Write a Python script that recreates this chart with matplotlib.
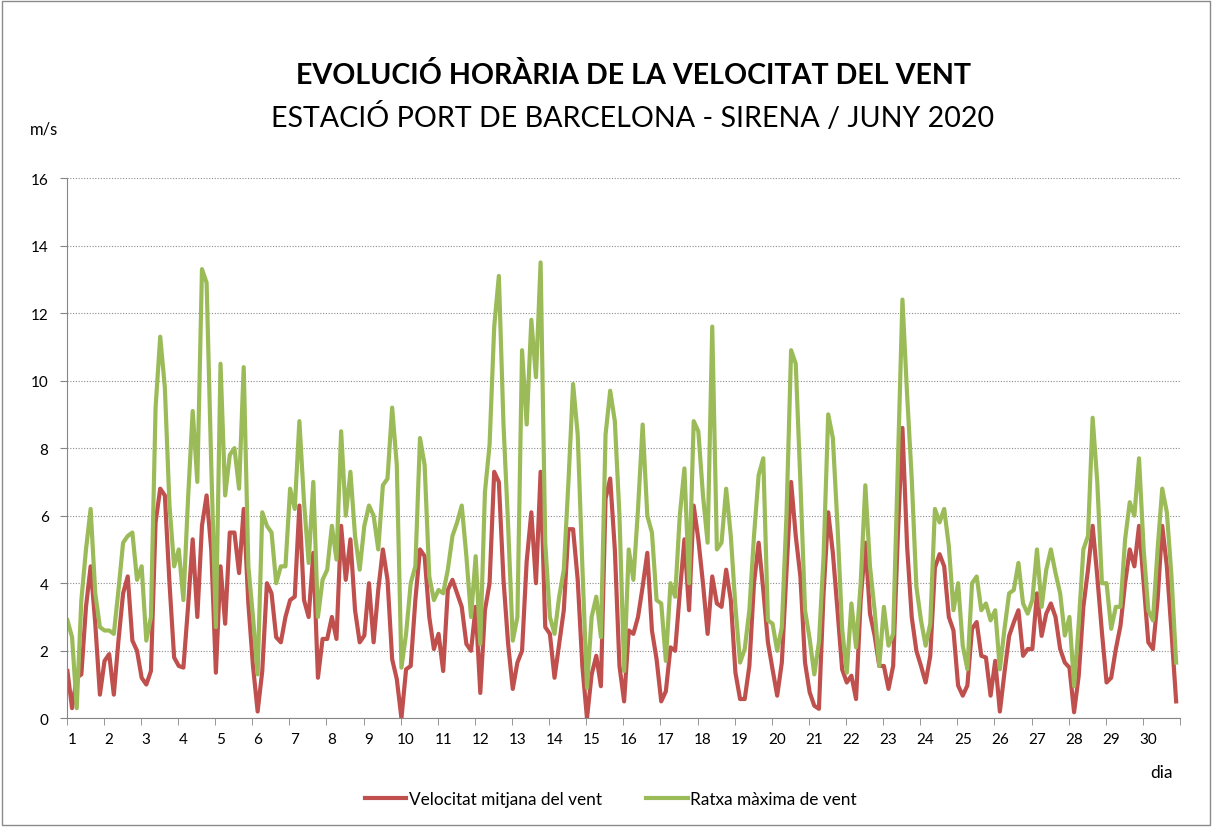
import numpy as np
import matplotlib
matplotlib.use('Agg')
import matplotlib.pyplot as plt
from matplotlib.patches import Rectangle

plt.rcParams['font.family'] = ['Lato', 'DejaVu Sans']

# lectures cada 3 hores (0h, 3h, ... 21h), una fila per dia de juny 2020
dies = [str(d) for d in range(1, 31)]

mitjana = [
    1.4, 0.3, 1.2, 1.3, 3.3, 4.5, 2.8, 0.7,
    1.7, 1.9, 0.7, 2.3, 3.7, 4.2, 2.3, 2.0,
    1.2, 1.0, 1.4, 5.8, 6.8, 6.6, 4.0, 1.8,
    1.55, 1.5, 3.3, 5.3, 3.0, 5.7, 6.6, 5.0,
    1.35, 4.5, 2.8, 5.5, 5.5, 4.3, 6.2, 3.4,
    1.55, 0.2, 1.4, 4.0, 3.7, 2.4, 2.25, 3.0,
    3.5, 3.6, 6.3, 3.5, 3.0, 4.9, 1.2, 2.35,
    2.35, 3.0, 2.35, 5.7, 4.1, 5.3, 3.2, 2.25,
    2.45, 4.0, 2.25, 3.8, 5.0, 4.1, 1.75, 1.16,
    0.0, 1.45, 1.55, 3.5, 5.0, 4.8, 3.0, 2.05,
    2.5, 1.4, 3.8, 4.1, 3.7, 3.3, 2.2, 2.0,
    3.3, 0.75, 3.2, 4.0, 7.3, 7.0, 4.1, 2.2,
    0.87, 1.65, 2.0, 4.65, 6.1, 4.0, 7.3, 2.7,
    2.5, 1.2, 2.2, 3.2, 5.6, 5.6, 4.1, 1.55,
    0.0, 1.3, 1.85, 0.95, 6.5, 7.1, 5.0, 1.55,
    0.5, 2.6, 2.5, 3.0, 3.9, 4.9, 2.6, 1.75,
    0.5, 0.8, 2.1, 2.0, 3.7, 5.3, 3.2, 6.3,
    5.3, 4.0, 2.5, 4.2, 3.4, 3.3, 4.4, 3.5,
    1.35, 0.57, 0.57, 1.55, 4.0, 5.2, 3.8, 2.25,
    1.45, 0.67, 1.65, 4.3, 7.0, 5.4, 4.2, 1.65,
    0.77, 0.37, 0.28, 3.7, 6.1, 4.9, 3.2, 1.45,
    1.06, 1.26, 0.57, 3.5, 5.2, 3.1, 2.45, 1.55,
    1.55, 0.87, 1.55, 5.4, 8.6, 5.1, 3.0, 2.0,
    1.55, 1.06, 1.85, 4.46, 4.86, 4.5, 3.0, 2.6,
    0.97, 0.67, 0.97, 2.65, 2.85, 1.85, 1.8, 0.67,
    1.7, 0.2, 1.36, 2.44, 2.84, 3.2, 1.85, 2.05,
    2.05, 3.7, 2.44, 3.1, 3.4, 3.0, 2.05, 1.65,
    1.5, 0.18, 1.26, 3.3, 4.4, 5.7, 4.2, 2.55,
    1.06, 1.2, 2.05, 2.74, 4.0, 5.0, 4.5, 5.7,
    4.0, 2.25, 2.05, 3.5, 5.7, 4.5, 2.55, 0.5,
]

ratxa = [
    2.9, 2.4, 0.3, 3.5, 5.0, 6.2, 3.7, 2.7,
    2.6, 2.6, 2.5, 3.8, 5.2, 5.4, 5.5, 4.1,
    4.5, 2.3, 3.0, 9.2, 11.3, 9.8, 6.3, 4.5,
    5.0, 3.5, 6.5, 9.1, 7.0, 13.3, 12.9, 7.5,
    2.7, 10.5, 6.6, 7.8, 8.0, 6.8, 10.4, 4.5,
    3.0, 1.3, 6.1, 5.7, 5.5, 4.0, 4.5, 4.5,
    6.8, 6.2, 8.8, 6.4, 4.6, 7.0, 3.0, 4.1,
    4.4, 5.7, 4.7, 8.5, 6.0, 7.3, 5.4, 4.4,
    5.7, 6.3, 6.0, 5.0, 6.9, 7.1, 9.2, 7.5,
    1.5, 2.5, 4.0, 4.5, 8.3, 7.5, 4.2, 3.5,
    3.8, 3.7, 4.4, 5.4, 5.8, 6.3, 4.8, 3.0,
    4.8, 2.2, 6.7, 8.1, 11.6, 13.1, 8.7, 5.7,
    2.3, 3.0, 10.9, 8.7, 11.8, 10.1, 13.5, 5.2,
    3.0, 2.5, 3.6, 4.4, 7.0, 9.9, 8.4, 4.5,
    0.9, 3.0, 3.6, 2.4, 8.4, 9.7, 8.8, 6.0,
    1.4, 5.0, 4.1, 6.2, 8.7, 6.0, 5.5, 3.5,
    3.4, 1.7, 4.0, 3.6, 6.0, 7.4, 4.0, 8.8,
    8.5, 6.6, 5.2, 11.6, 5.0, 5.2, 6.8, 5.4,
    3.3, 1.65, 2.05, 3.2, 5.4, 7.2, 7.7, 2.9,
    2.8, 2.0, 2.7, 6.0, 10.9, 10.5, 7.0, 3.2,
    2.35, 1.3, 2.25, 4.8, 9.0, 8.3, 5.7, 2.65,
    1.35, 3.4, 2.1, 4.0, 6.9, 4.5, 3.2, 1.55,
    3.3, 2.15, 2.5, 7.4, 12.4, 9.6, 7.1, 3.9,
    2.9, 2.15, 2.8, 6.2, 5.8, 6.2, 5.1, 3.2,
    4.0, 2.15, 1.45, 4.0, 4.2, 3.2, 3.4, 2.9,
    3.2, 1.45, 2.65, 3.7, 3.8, 4.6, 3.4, 3.1,
    3.5, 5.0, 3.3, 4.4, 5.0, 4.3, 3.7, 2.45,
    3.0, 0.95, 2.8, 5.0, 5.4, 8.9, 7.0, 4.0,
    4.0, 2.65, 3.3, 3.3, 5.3, 6.4, 6.0, 7.7,
    5.0, 3.2, 2.9, 5.0, 6.8, 6.1, 4.2, 1.65,
]

hores = np.arange(len(mitjana)) * 3

fig = plt.figure(figsize=(12.12, 8.28), dpi=100)
ax = fig.add_axes([0.055, 0.1313, 0.9186, 0.6525])

ax.plot(hores, mitjana, color='#C0504D', lw=3.0, solid_joinstyle='round',
        label='Velocitat mitjana del vent')
ax.plot(hores, ratxa, color='#9BBB59', lw=3.0, solid_joinstyle='round',
        label='Ratxa màxima de vent')

ax.set_xlim(-0.5, 719.5)
ax.set_ylim(0, 16)
ax.set_yticks(range(0, 17, 2))
ax.set_axisbelow(True)
ax.yaxis.grid(True, color='#8c8c8c', ls=(0, (1, 1.5)), lw=0.8)

ax.set_xticks(np.arange(30) * 24 + 3)
ax.set_xticklabels(dies)
ax.set_xticks(np.arange(31) * 24 - 0.5, minor=True)
ax.tick_params(axis='x', which='major', length=0, pad=10, labelsize=11)
ax.tick_params(axis='x', which='minor', length=5, color='#868686', direction='out')
ax.tick_params(axis='y', length=5, color='#868686', labelsize=11, pad=8)

for s in ['top', 'right']:
    ax.spines[s].set_visible(False)
for s in ['left', 'bottom']:
    ax.spines[s].set_color('#868686')

fig.text(0.5227, 0.909, 'EVOLUCIÓ HORÀRIA DE LA VELOCITAT DEL VENT',
         fontsize=20.6, fontweight='bold', ha='center', va='center')
fig.text(0.5223, 0.858, 'ESTACIÓ PORT DE BARCELONA - SIRENA / JUNY 2020',
         fontsize=20.6, ha='center', va='center')
fig.text(0.036, 0.843, 'm/s', fontsize=12, ha='center', va='center')
fig.text(0.958, 0.066, 'dia', fontsize=12.5, ha='center', va='center')

fig.legend(loc='center', bbox_to_anchor=(0.504, 0.034), ncol=2, frameon=False,
           fontsize=12.4, handlelength=2.4, handletextpad=0.15, columnspacing=2.6)

fig.add_artist(Rectangle((0.002, 0.002), 0.996, 0.995, transform=fig.transFigure,
                         fill=False, ec='#8a8a8a', lw=1))

fig.savefig('out.png', dpi=100)
